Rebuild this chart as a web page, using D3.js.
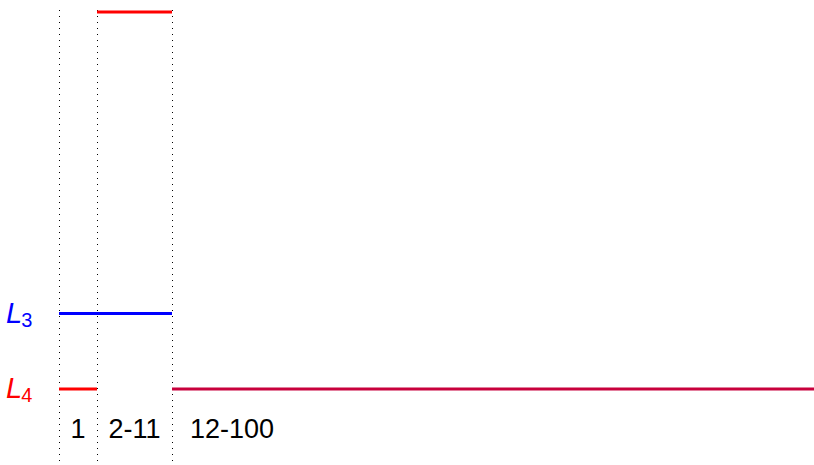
<!DOCTYPE html>
<html>
<head>
<meta charset="utf-8">
<script src="https://cdn.jsdelivr.net/npm/d3@7"></script>
<style>
  body { margin: 0; background: #fff; }
  svg { display: block; font-family: "Liberation Sans", Arial, Helvetica, sans-serif; }
</style>
</head>
<body>
<svg id="chart"></svg>
<script>
// segment boundaries (n values) and their labels
var bounds = [1, 2, 12, 100];
var segLabels = ['1', '2-11', '12-100'];

// horizontal levels, one entry per drawn bar
var levels = [
    {seg: 0, value: 2, color: '#0000ff'},
    {seg: 0, value: 1, color: '#ff0000'},
    {seg: 1, value: 2, color: '#0000ff'},
    {seg: 1, value: 6, color: '#ff0000'},
    {seg: 2, value: 1, color: '#c8003c'}
];

// named levels on the left
var levelNames = [
    {value: 2, sub: '3', color: '#0000ff'},
    {value: 1, sub: '4', color: '#ff0000'}
];

var W = 814, H = 465;
var svg = d3.select('#chart').attr('width', W).attr('height', H);

var x = d3.scaleLinear().domain(bounds).range([59, 97, 172, 814]);
var y = d3.scaleLinear().domain([1, 6]).range([389, 12]);

// dotted separators
svg.append('g').selectAll('line').data(bounds.slice(0, 3)).enter().append('line')
    .attr('x1', function (d) { return Math.round(x(d)) + 0.5; })
    .attr('x2', function (d) { return Math.round(x(d)) + 0.5; })
    .attr('y1', 10).attr('y2', H)
    .attr('stroke', '#000').attr('stroke-width', 1)
    .attr('stroke-dasharray', '1,5');

// bars
svg.append('g').selectAll('line').data(levels).enter().append('line')
    .attr('x1', function (d) { return x(bounds[d.seg]); })
    .attr('x2', function (d) { return x(bounds[d.seg + 1]); })
    .attr('y1', function (d) { return y(d.value); })
    .attr('y2', function (d) { return y(d.value); })
    .attr('stroke', function (d) { return d.color; })
    .attr('stroke-width', 3);

// segment labels
svg.append('g').selectAll('text').data(segLabels).enter().append('text')
    .attr('x', function (d, i) {
        if (i < 2) return (x(bounds[i]) + x(bounds[i + 1])) / 2;
        return x(bounds[i]) + 18;
    })
    .attr('y', 438)
    .attr('text-anchor', function (d, i) { return i < 2 ? 'middle' : 'start'; })
    .attr('font-size', 27)
    .attr('fill', '#000')
    .text(function (d) { return d; });

// L labels
var lab = svg.append('g').selectAll('text').data(levelNames).enter().append('text')
    .attr('x', 6)
    .attr('y', function (d) { return y(d.value) + 9; })
    .attr('fill', function (d) { return d.color; })
    .attr('font-size', 29);
lab.append('tspan').attr('font-style', 'italic').text('L');
lab.append('tspan').attr('font-size', 20).attr('dy', 4).attr('dx', -1)
    .text(function (d) { return d.sub; });
</script>
</body>
</html>
